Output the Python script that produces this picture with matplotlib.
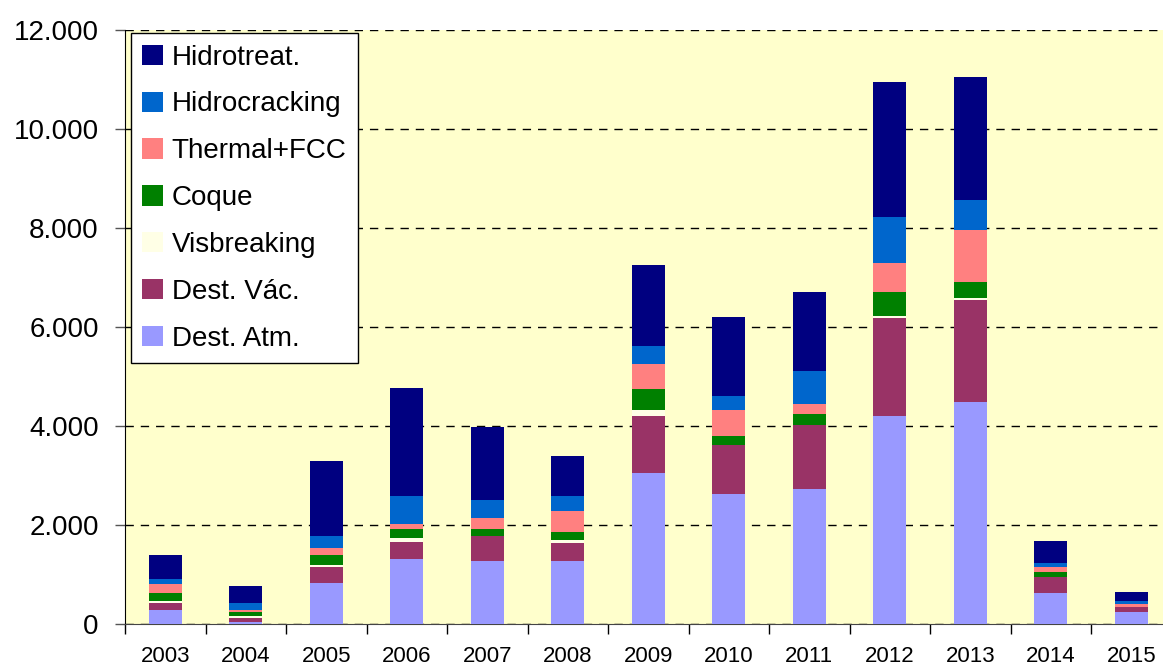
import numpy as np
import matplotlib
matplotlib.use("Agg")
from matplotlib import pyplot as plt
from matplotlib.ticker import FuncFormatter, FixedLocator

plt.rcParams['font.family'] = ['Liberation Sans', 'DejaVu Sans']

years = ['2003', '2004', '2005', '2006', '2007', '2008', '2009',
         '2010', '2011', '2012', '2013', '2014', '2015']

dest_atm = [283, 30, 830, 1313, 1273, 1273, 3050, 2626, 2727, 4206, 4485, 620, 240]
dest_vac = [141, 90, 320, 343, 505, 363, 1152, 990, 1293, 1974, 2062, 320, 100]
visbreaking = [40, 40, 40, 80, 0, 61, 121, 0, 0, 44, 37, 0, 0]
coque = [161, 80, 200, 182, 141, 161, 424, 182, 222, 485, 323, 105, 0]
thermal_fcc = [182, 40, 140, 101, 222, 425, 505, 525, 202, 587, 1050, 100, 60]
hidrocracking = [101, 140, 245, 566, 364, 303, 364, 283, 667, 925, 609, 80, 60]
hidrotreat = [485, 344, 1515, 2181, 1474, 808, 1636, 1595, 1595, 2723, 2481, 445, 185]

series = [
    ('Dest. Atm.', dest_atm, '#9999FF'),
    ('Dest. Vác.', dest_vac, '#993366'),
    ('Visbreaking', visbreaking, '#FFFFE6'),
    ('Coque', coque, '#008000'),
    ('Thermal+FCC', thermal_fcc, '#FF8080'),
    ('Hidrocracking', hidrocracking, '#0066CC'),
    ('Hidrotreat.', hidrotreat, '#000080'),
]

fig = plt.figure(figsize=(11.63, 6.69), dpi=100)
ax = fig.add_axes([0.1075, 0.0673, 0.9, 0.888])
ax.set_facecolor('#FFFFCC')

x = np.arange(len(years))
bottom = np.zeros(len(years))
handles = []
for name, vals, col in series:
    b = ax.bar(x, vals, 0.41, bottom=bottom, color=col, label=name, zorder=3)
    handles.append(b)
    bottom += np.array(vals)

ax.set_xlim(-0.5, 12.5)
ax.set_ylim(0, 12000)
ax.set_yticks(np.arange(0, 12001, 2000))
ax.yaxis.set_major_formatter(FuncFormatter(lambda v, p: f"{int(v):,}".replace(',', '.')))
ax.yaxis.grid(True, color='black', linestyle=(0, (6, 5)), linewidth=1, zorder=1)

ax.set_xticks(x)
ax.set_xticklabels(years)
ax.xaxis.set_minor_locator(FixedLocator(np.arange(-0.5, 13, 1)))
ax.tick_params(axis='x', which='major', length=0, pad=16, labelsize=16)
ax.tick_params(axis='x', which='minor', length=7, width=1, color='black')
ax.tick_params(axis='y', length=7, width=1, color='#555555', pad=12, labelsize=20)

ax.spines['top'].set_visible(False)
ax.spines['right'].set_visible(False)
ax.spines['left'].set_color('black')
ax.spines['bottom'].set_color('#444444')

leg = ax.legend(handles[::-1], [s[0] for s in series][::-1], loc='upper left',
                bbox_to_anchor=(0.006, 0.994), fontsize=20, frameon=True,
                fancybox=False, edgecolor='black', framealpha=1,
                handlelength=0.75, handleheight=0.75, handletextpad=0.3,
                labelspacing=0.75, borderpad=0.4, borderaxespad=0)
leg.get_frame().set_linewidth(1)

fig.savefig('out.png', dpi=100)
